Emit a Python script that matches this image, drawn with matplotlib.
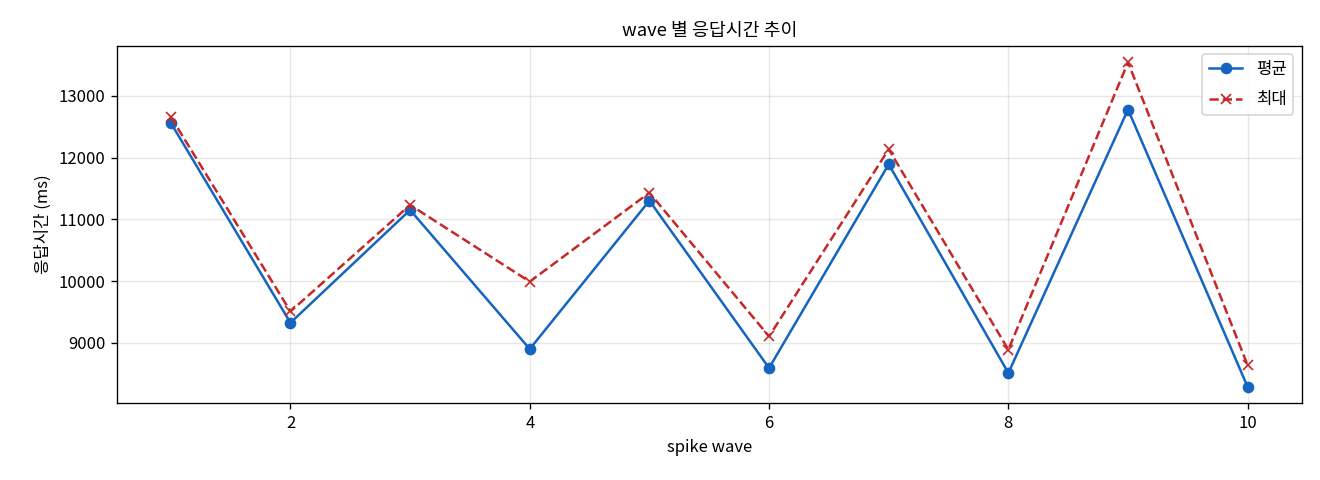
import matplotlib
matplotlib.use('Agg')
import matplotlib.pyplot as plt

plt.rcParams['font.family'] = ['Noto Sans CJK KR', 'DejaVu Sans']
plt.rcParams['axes.unicode_minus'] = False

waves = [1, 2, 3, 4, 5, 6, 7, 8, 9, 10]
avg_ms = [12563, 9323, 11151, 8898, 11302, 8590, 11892, 8509, 12779, 8283]
max_ms = [12660, 9507, 11232, 9990, 11431, 9102, 12135, 8887, 13544, 8633]

fig, ax = plt.subplots(figsize=(11, 4), dpi=120)
fig.subplots_adjust(left=0.0886, right=0.986, top=0.904, bottom=0.160)

ax.plot(waves, avg_ms, marker='o', color='#1565C0', linewidth=1.5, markersize=6, label='평균')
ax.plot(waves, max_ms, marker='x', linestyle='--', color='#C62828', linewidth=1.5, markersize=6, label='최대')

ax.set_title('wave 별 응답시간 추이', fontsize=11)
ax.set_xlabel('spike wave', fontsize=10)
ax.set_ylabel('응답시간 (ms)', fontsize=10)
ax.grid(True, alpha=0.3)
ax.legend(loc='upper right', fontsize=10, labelspacing=0.8)

fig.savefig('out.png', dpi=120)
